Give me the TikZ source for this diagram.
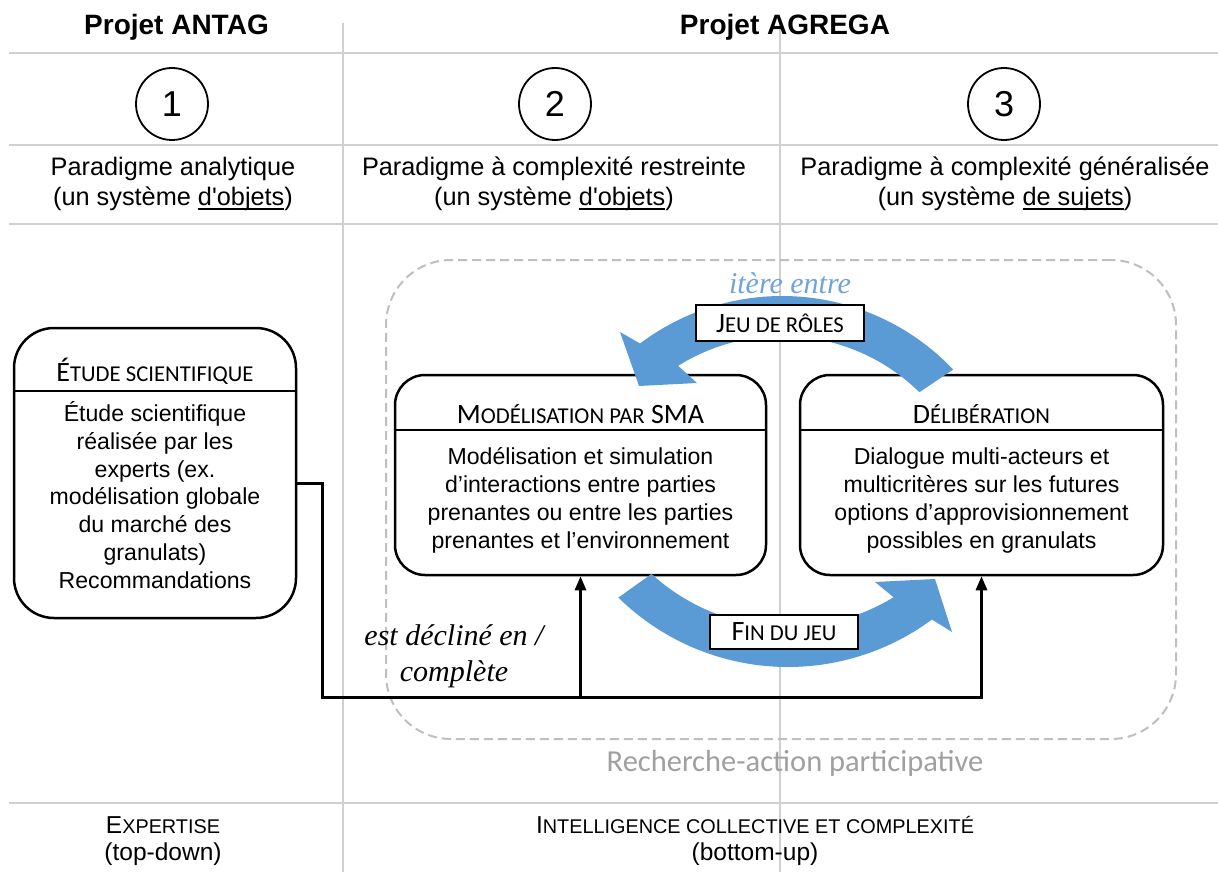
\documentclass[tikz,border=0pt]{standalone}
\usepackage{fontspec}
\setmainfont{Liberation Sans}
\newfontfamily\calfont{Carlito}
\newfontfamily\timesfont{Liberation Serif}
\usetikzlibrary{arrows.meta,calc}
\makeatletter
\newcommand\smc[1]{{\fontsize{\fpeval{0.81*\f@size}}{0}\selectfont #1}}
\makeatother
\newcommand\ulin[1]{\setbox0\hbox{#1}\rlap{\rule[-4.5pt]{\wd0}{1.3pt}}\box0}
\definecolor{arrowblue}{HTML}{5B9BD5}
\definecolor{gridgray}{HTML}{D0D0D0}
\definecolor{dashgray}{HTML}{BFBFBF}
\definecolor{textgray}{HTML}{A0A0A0}
\definecolor{itblue}{HTML}{6FA3DB}
\tikzset{
 hline/.style={draw=gridgray, line width=2pt},
 vline/.style={draw=gridgray, line width=1.2pt},
 numcirc/.style={circle, draw, line width=1.8pt, minimum size=72pt, inner sep=0pt, font=\fontsize{36}{40}\selectfont},
 header/.style={font=\bfseries\fontsize{28}{32}\selectfont, anchor=base, inner sep=0pt},
 para/.style={align=center, font=\fontsize{25.3}{30}\selectfont, inner sep=0pt},
 box/.style={draw, line width=2.5pt, fill=white, inner sep=0pt},
 divider/.style={line width=1.3pt},
 boxtitle/.style={font=\calfont\fontsize{28}{32}\selectfont, anchor=base, inner sep=0pt},
 body/.style={align=center, font=\fontsize{23.1}{27.8}\selectfont, inner sep=0pt},
 region/.style={draw=dashgray, line width=2pt, dash pattern=on 9pt off 5pt, rounded corners=65pt, inner sep=0pt},
 tag/.style={draw, line width=2pt, fill=white, inner sep=0pt, font=\calfont\fontsize{28}{32}\selectfont},
 conn/.style={line width=3pt, line join=miter},
 flow/.style={fill=arrowblue},
 ital/.style={font=\timesfont\itshape\fontsize{30}{36}\selectfont, inner sep=0pt, align=center},
 foot/.style={align=center, font=\fontsize{24.5}{27}\selectfont, inner sep=0pt},
 tip/.style={-{Triangle[length=14pt,width=11pt]}},
}
\begin{document}
\begin{tikzpicture}[x=1pt,y=-1pt]
\useasboundingbox (0,0) rectangle (1218,872);
\fill[white] (0,0) rectangle (1218,872);

% grid
\draw[hline] (9,53) -- (1218,53);
\draw[hline] (9,145) -- (1218,145);
\draw[hline] (9,224) -- (1218,224);
\draw[hline] (9,803) -- (1218,803);
\draw[vline] (343,23) -- (343,872);
\draw[vline] (780,23) -- (780,872);

% headers
\node[header] (antag) at (176.5,35) {Projet ANTAG};
\node[header] (agrega) at (785,35) {Projet AGREGA};

\node[numcirc] (c1) at (172,104) {1};
\node[numcirc] (c2) at (555,104) {2};
\node[numcirc] (c3) at (1004,104) {3};

\node[para] (p1) at (173,183.5) {Paradigme analytique\\(un système \ulin{d\textquotesingle objets})};
\node[para] (p2) at (554,183.5) {Paradigme à complexité restreinte\\(un système \ulin{d\textquotesingle objets})};
\node[para] (p3) at (1005,183.5) {Paradigme à complexité généralisée\\(un système \ulin{de sujets})};

% participative region
\node[region, minimum width=790pt, minimum height=479pt] (rap) at (781,499.5) {};
\node[font=\calfont\fontsize{30.5}{34}\selectfont, text=textgray, anchor=base, inner sep=0pt] (raplab) at (795,771) {Recherche-action participative};

% boxes
\node[box, rounded corners=40pt, minimum width=282pt, minimum height=290pt] (etude) at (155,473) {};
\draw[divider] (etude.west |- 0,391) -- (etude.east |- 0,391);
\node[boxtitle] (etudeT) at (155,381) {É\smc{TUDE SCIENTIFIQUE}};
\node[body] (etudeB) at (155,495) {Étude scientifique\\réalisée par les\\experts (ex.\\modélisation globale\\du marché des\\granulats)\\Recommandations};

\node[box, rounded corners=30pt, minimum width=371pt, minimum height=200pt] (mod) at (580.5,475) {};
\draw[divider] (mod.west |- 0,430) -- (mod.east |- 0,430);
\node[boxtitle] (modT) at (580.5,423) {M\smc{ODÉLISATION PAR} SMA};
\node[body] (modB) at (580.5,500.5) {Modélisation et simulation\\d’interactions entre parties\\prenantes ou entre les parties\\prenantes et l’environnement};

\node[box, rounded corners=30pt, minimum width=363pt, minimum height=200pt] (delib) at (981.5,475) {};
\draw[divider] (delib.west |- 0,430) -- (delib.east |- 0,430);
\node[boxtitle] (delibT) at (981.5,423) {D\smc{ÉLIBÉRATION}};
\node[body] (delibB) at (981.5,500.5) {Dialogue multi-acteurs et\\multicritères sur les futures\\options d’approvisionnement\\possibles en granulats};

% blue cycle arrows
\fill[flow] plot[domain=-43.5:-127, samples=60] ({782+236*cos(\x)},{532+236*sin(\x)})
  -- (620,332) -- (639,386) -- (697,383)
  -- plot[domain=-122:-45.5, samples=60] ({782+196*cos(\x)},{532+196*sin(\x)}) -- cycle;
\fill[flow] plot[domain=134.5:53.5, samples=60] ({788+242*cos(\x)},{425+242*sin(\x)})
  -- (952,632) -- (935,579) -- (875,582)
  -- plot[domain=58.5:132.5, samples=60] ({788+202*cos(\x)},{425+202*sin(\x)}) -- cycle;

\node[ital, text=itblue, anchor=base] (itere) at (790,293) {itère entre};
\node[tag, minimum width=168pt, minimum height=36pt] (jeu) at (780,323) {J\smc{EU DE RÔLES}};
\node[tag, minimum width=148pt, minimum height=34pt] (fin) at (784,632) {F\smc{IN DU JEU}};

% connector
\coordinate (j1) at (322,483);
\coordinate (j2) at (322,697);
\draw[conn, tip] (etude.east |- j1) -- (j1) -- (j2) -- (delib.south |- j2) -- (delib.south);
\draw[conn, tip] (mod.south |- j2) -- (mod.south);
\node[ital] (decl) at (454,656) {est décliné en /\\complète};

% footer
\node[foot] (expert) at (163,841) {E\smc{XPERTISE}\\(top-down)};
\node[foot] (intel) at (755,841) {I\smc{NTELLIGENCE COLLECTIVE ET COMPLEXITÉ}\\(bottom-up)};
\end{tikzpicture}
\end{document}
